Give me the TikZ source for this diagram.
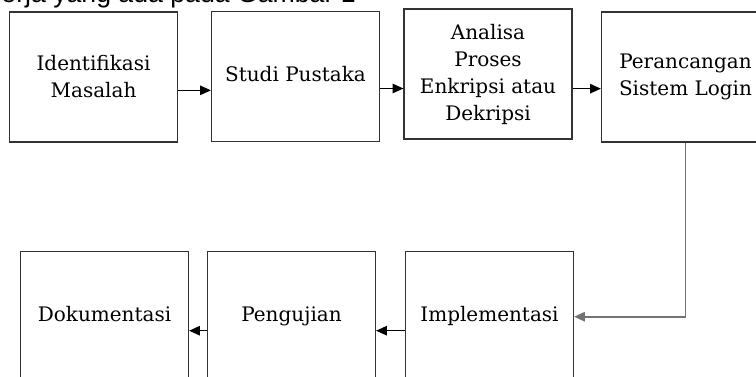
\documentclass[tikz,border=0pt]{standalone}
\usepackage{fontspec}
\setmainfont{DejaVu Serif}
\newfontfamily\topfont{Liberation Sans}
\usetikzlibrary{arrows.meta,calc}
\tikzset{
  stepbox/.style={draw=black!80, line width=0.9pt, minimum width=126pt, minimum height=97.5pt,
    inner sep=0pt, align=center, font=\fontsize{15pt}{20.25pt}\selectfont},
  oneline/.style={text height=11pt, text depth=3.5pt},
  arr/.style={draw=black, line width=0.95pt, -{Triangle[length=8pt,width=7pt]}},
  garr/.style={draw=black!55, line width=1.3pt, -{Triangle[length=8pt,width=7pt]}}
}
\begin{document}
\begin{tikzpicture}[x=0.75pt,y=-0.75pt]
\useasboundingbox (0,0) rectangle (756,376);
\clip (0,0) rectangle (756,376);
\node[anchor=base east, font=\topfont\fontsize{20pt}{24pt}\selectfont, inner sep=0pt] (cap) at (356,2) {erja yang ada pada Gambar 1};
\node[stepbox] (b1) at (93.5,77) {Identifikasi\\Masalah};
\node[stepbox, oneline] (b2) at (295.5,76.5) {Studi Pustaka};
\node[stepbox] (b3) at (488,74) {Analisa\\Proses\\Enkripsi atau\\Dekripsi};
\node[stepbox] (b4) at (685.5,77) {Perancangan\\Sistem Login};
\node[stepbox, oneline] (b5) at (489.5,316.7) {Implementasi};
\node[stepbox, oneline] (b6) at (291.5,316.7) {Pengujian};
\node[stepbox, oneline] (b7) at (104.5,316.7) {Dokumentasi};
\draw[arr] ([yshift=-10pt]b1.east) -- ([yshift=-10pt]b1.east -| b2.west);
\draw[arr] ([yshift=-9pt]b2.east) -- ([yshift=-9pt]b2.east -| b3.west);
\draw[arr] ([yshift=-11pt]b3.east) -- ([yshift=-11pt]b3.east -| b4.west);
\draw[garr] (b4.south) |- (b5.east);
\draw[arr] ([yshift=-10.5pt]b5.west) -- ([yshift=-10.5pt]b5.west -| b6.east);
\draw[arr] ([yshift=-10.5pt]b6.west) -- ([yshift=-10.5pt]b6.west -| b7.east);
\end{tikzpicture}
\end{document}
